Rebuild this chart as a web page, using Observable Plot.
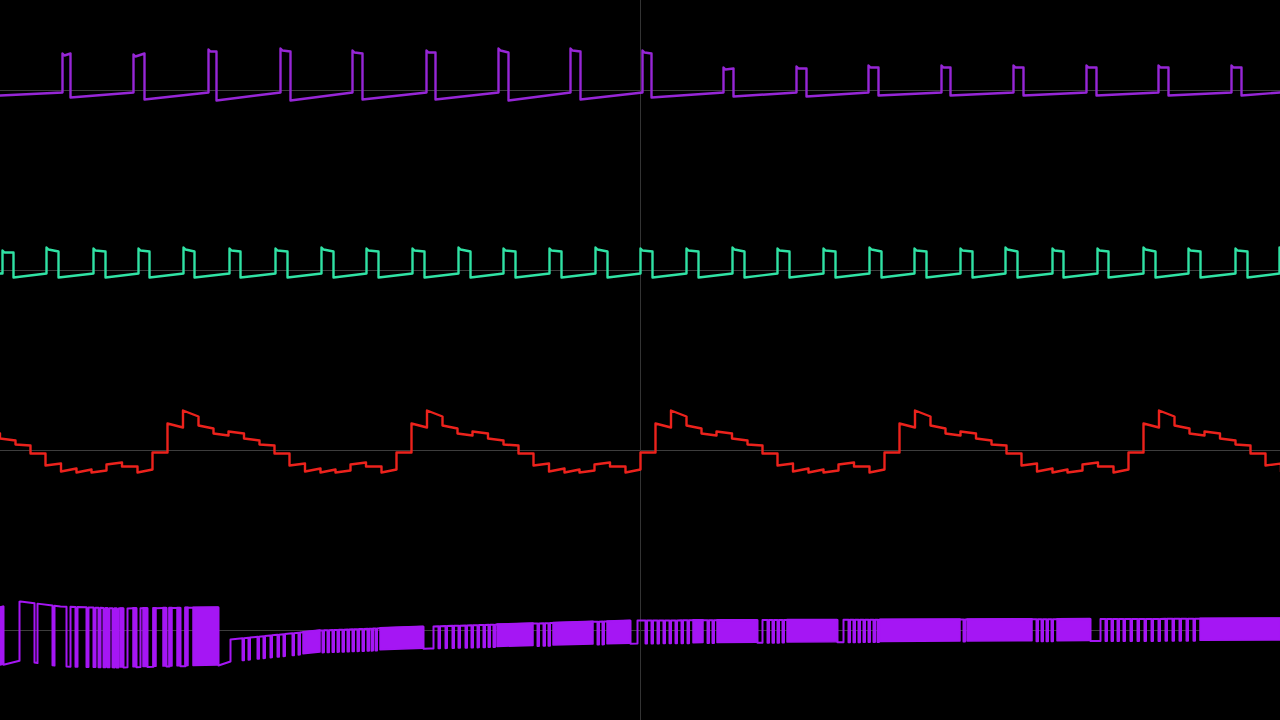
<!DOCTYPE html>
<html>
<head>
<meta charset="utf-8">
<script src="https://cdn.jsdelivr.net/npm/d3@7"></script>
<script src="https://cdn.jsdelivr.net/npm/@observablehq/plot@0.6"></script>
<style>
  html, body { margin: 0; padding: 0; background: #000; overflow: hidden; }
  #chart svg { display: block; }
</style>
</head>
<body>
<div id="chart"></div>
<script>
// ---------- channels ----------
const channels = ["CH1", "CH2", "CH3", "CH4"];
const channelColors = ["#9626d6", "#30e2a4", "#ec221c", "#a516f4"];

// ---------- CH1: narrow pulse train (time units, level units) ----------
const ch1StartLevel = -5;
const ch1BaseLevel = -2;
const ch1Rise    = [62, 133, 208, 280, 352, 426, 498, 570, 642, 723, 796, 868, 941, 1013, 1086, 1158, 1231];
const ch1Fall    = [70, 144, 216, 290, 362, 435, 508, 580, 651, 733, 806, 878, 950, 1023, 1096, 1168, 1241];
const ch1Top     = [37, 36, 41, 42, 40, 40, 42, 42, 40, 23, 24, 25, 25, 25, 25, 25, 25];
const ch1TopEnd  = [37, 37, 39, 39, 37, 38, 38, 39, 37, 22, 22, 23, 23, 23, 23, 23, 23];
const ch1Trough  = [-7, -9, -10, -10, -9, -9, -10, -9, -7, -6, -6, -5, -5, -5, -5, -5, -5];

// ---------- CH2: square-ish pulse train ----------
const ch2StartLevel = -3;
const ch2BaseLevel = -3;
const ch2Rise   = [2, 46, 93, 138, 183, 229, 275, 321, 366, 412, 458, 503, 549, 595, 640, 686, 732, 777, 823, 869, 914, 960, 1005, 1052, 1097, 1143, 1188, 1235, 1279];
const ch2Fall   = [13, 58, 105, 149, 194, 240, 287, 333, 378, 424, 470, 515, 561, 607, 652, 698, 744, 789, 835, 881, 926, 972, 1017, 1063, 1108, 1155, 1200, 1247, 1291];
const ch2Top    = [20, 23, 22, 22, 23, 22, 22, 23, 22, 22, 23, 22, 22, 23, 22, 22, 23, 22, 22, 23, 22, 22, 23, 22, 22, 23, 22, 22, 23];
const ch2TopEnd = [18, 19, 19, 19, 19, 19, 19, 19, 19, 19, 19, 19, 19, 19, 19, 19, 19, 19, 19, 19, 19, 19, 19, 19, 19, 19, 19, 19, 19];
const ch2Trough = [-7, -7, -7, -7, -7, -7, -7, -7, -7, -7, -7, -7, -7, -7, -7, -7, -7, -7, -7, -7, -7, -7, -7, -7, -7, -7, -7, -7, -7];

// ---------- CH3: stepped sawtooth (one read cycle, repeated at read cycle starts) ----------
const ch3CycleStart = [-92, 152, 396, 640, 884, 1128];
const ch3StepEdges  = [0, 15, 30.5, 46, 61, 76, 91.5, 107, 122, 137, 152.5, 168, 183, 198, 213.5, 229, 244];
const ch3StepStart  = [-2, 27, 40, 25, 17, 19, 12, 6, -3, -15, -21, -22, -22, -14, -16, -22];
const ch3StepEnd    = [-2, 23, 34, 22, 15, 17, 10, 5, -3, -13, -18, -19, -20, -12, -16, -19];

// ---------- CH4: dense digital-like signal ----------
const ch4EnvX   = [0, 20, 60, 120, 218, 230, 320, 430, 640, 960, 1280];
const ch4EnvTop = [23, 29, 24, 22, 23, -9, 0, 4, 10, 11, 12];
const ch4EnvBot = [-35, -30, -36, -37, -35, -31, -22, -18, -13, -11, -10];
// runs: [start time, state]  H = high, L = low, D = dense toggling
const ch4Runs = [
  [0, "D"], [3, "L"], [19, "H"], [34, "L"], [37, "H"], [52, "L"], [54, "H"], [66, "L"], [70, "H"],
  [75, "L"], [77, "H"], [86, "L"], [88, "H"], [93, "L"], [95, "H"], [98, "L"], [100, "H"],
  [103, "L"], [105, "H"], [107, "L"], [109, "H"], [112, "L"], [114, "H"], [116, "L"], [118, "H"],
  [120, "D"], [123, "L"], [127, "H"], [133, "D"], [136, "L"], [140, "H"], [143, "D"], [147, "L"],
  [153, "D"], [156, "H"], [163, "D"], [166, "L"], [169, "D"], [172, "H"], [177, "D"], [180, "L"],
  [185, "D"], [188, "H"], [193, "D"], [218, "L"], [230, "H"], [303, "D"], [320, "H"], [380, "D"],
  [423, "L"], [433, "H"], [497, "D"], [533, "H"], [553, "D"], [593, "H"], [607, "D"], [630, "L"],
  [637, "H"], [693, "D"], [703, "H"], [717, "D"], [757, "L"], [762, "H"], [787, "D"], [837, "L"],
  [843, "H"], [880, "D"], [960, "H"], [967, "D"], [1032, "H"], [1057, "D"], [1090, "L"], [1100, "H"],
  [1200, "D"]
];
const ch4Dips = [
  242, 248, 257, 263, 270, 277, 283, 292, 298,
  322, 327, 332, 337, 342, 347, 352, 357, 362, 367, 371, 375,
  438, 445, 452, 458, 465, 471, 477, 483, 488, 493,
  537, 543, 548, 597, 602,
  645, 651, 657, 663, 669, 675, 681, 687, 707, 712,
  767, 772, 777, 782, 848, 853, 858, 863, 868, 873, 877,
  963, 1036, 1041, 1046, 1051,
  1105, 1111, 1117, 1123, 1130, 1137, 1144, 1151, 1158, 1165, 1172, 1179, 1186, 1193
];
const ch4DipWidth = 1.5;
const tEnd = 1280;

// ---------- build point tables ----------
function pulseTrain(ch, startLevel, base, rise, fall, top, topEnd, trough) {
  const pts = [{ch, t: 0, v: startLevel}];
  rise.forEach((r, i) => {
    pts.push({ch, t: r, v: base});
    pts.push({ch, t: r, v: top[i]});
    pts.push({ch, t: r + 2, v: top[i] - 2});
    pts.push({ch, t: fall[i], v: topEnd[i]});
    pts.push({ch, t: fall[i], v: trough[i]});
  });
  if (fall[fall.length - 1] < tEnd) pts.push({ch, t: tEnd, v: base});
  return pts;
}
const ch1Pts = pulseTrain("CH1", ch1StartLevel, ch1BaseLevel, ch1Rise, ch1Fall, ch1Top, ch1TopEnd, ch1Trough);
const ch2Pts = pulseTrain("CH2", ch2StartLevel, ch2BaseLevel, ch2Rise, ch2Fall, ch2Top, ch2TopEnd, ch2Trough);

const ch3Pts = [];
ch3CycleStart.forEach(b => {
  ch3StepStart.forEach((s, i) => {
    ch3Pts.push({ch: "CH3", t: b + ch3StepEdges[i], v: s});
    ch3Pts.push({ch: "CH3", t: b + ch3StepEdges[i + 1], v: ch3StepEnd[i]});
  });
});

const topAt = d3.scaleLinear(ch4EnvX, ch4EnvTop);
const botAt = d3.scaleLinear(ch4EnvX, ch4EnvBot);
const ch4Pts = [];
const ch4Dense = [];
ch4Runs.forEach(([s, kind], k) => {
  const e = k + 1 < ch4Runs.length ? ch4Runs[k + 1][0] : tEnd;
  const inner = ch4EnvX.filter(x => x > s && x < e);
  if (kind === "D") {
    [s, ...inner, e].forEach(t => ch4Dense.push({ch: "CH4", run: k, t, lo: botAt(t), hi: topAt(t)}));
    ch4Pts.push({ch: "CH4", t: s, v: topAt(s)}, {ch: "CH4", t: e, v: topAt(e)});
  } else if (kind === "L") {
    [s, ...inner, e].forEach(t => ch4Pts.push({ch: "CH4", t, v: botAt(t)}));
  } else {
    const ev = [{t: s, dip: false}, ...inner.map(t => ({t, dip: false})),
                ...ch4Dips.filter(d => d > s && d < e).map(t => ({t, dip: true})),
                {t: e, dip: false}].sort((a, b) => a.t - b.t);
    ev.forEach(({t, dip}) => {
      if (!dip) { ch4Pts.push({ch: "CH4", t, v: topAt(t)}); return; }
      const t2 = t + ch4DipWidth;
      ch4Pts.push({ch: "CH4", t, v: topAt(t)}, {ch: "CH4", t, v: botAt(t)},
                  {ch: "CH4", t: t2, v: botAt(t2)}, {ch: "CH4", t: t2, v: topAt(t2)});
    });
  }
});

// ---------- plot ----------
const chart = Plot.plot({
  width: 1280,
  height: 720,
  margin: 0,
  style: {background: "#000"},
  x: {domain: [0, 1280], axis: null},
  y: {domain: [-90, 90], axis: null},
  fy: {domain: channels, padding: 0, axis: null},
  marks: [
    Plot.ruleY([0], {stroke: "#3d3d3d", strokeWidth: 1}),
    Plot.ruleX([640], {stroke: "#333333", strokeWidth: 1}),
    Plot.areaY(ch4Dense, {x: "t", y1: "lo", y2: "hi", z: "run", fy: "ch", fill: channelColors[3], stroke: channelColors[3], strokeWidth: 1.5, clip: true}),
    Plot.line(ch4Pts, {x: "t", y: "v", fy: "ch", stroke: channelColors[3], strokeWidth: 2, clip: true}),
    Plot.line(ch1Pts, {x: "t", y: "v", fy: "ch", stroke: channelColors[0], strokeWidth: 2.4, clip: true}),
    Plot.line(ch2Pts, {x: "t", y: "v", fy: "ch", stroke: channelColors[1], strokeWidth: 2.4, clip: true}),
    Plot.line(ch3Pts, {x: "t", y: "v", fy: "ch", stroke: channelColors[2], strokeWidth: 2.4, clip: true})
  ]
});
document.getElementById("chart").append(chart);
</script>
</body>
</html>
